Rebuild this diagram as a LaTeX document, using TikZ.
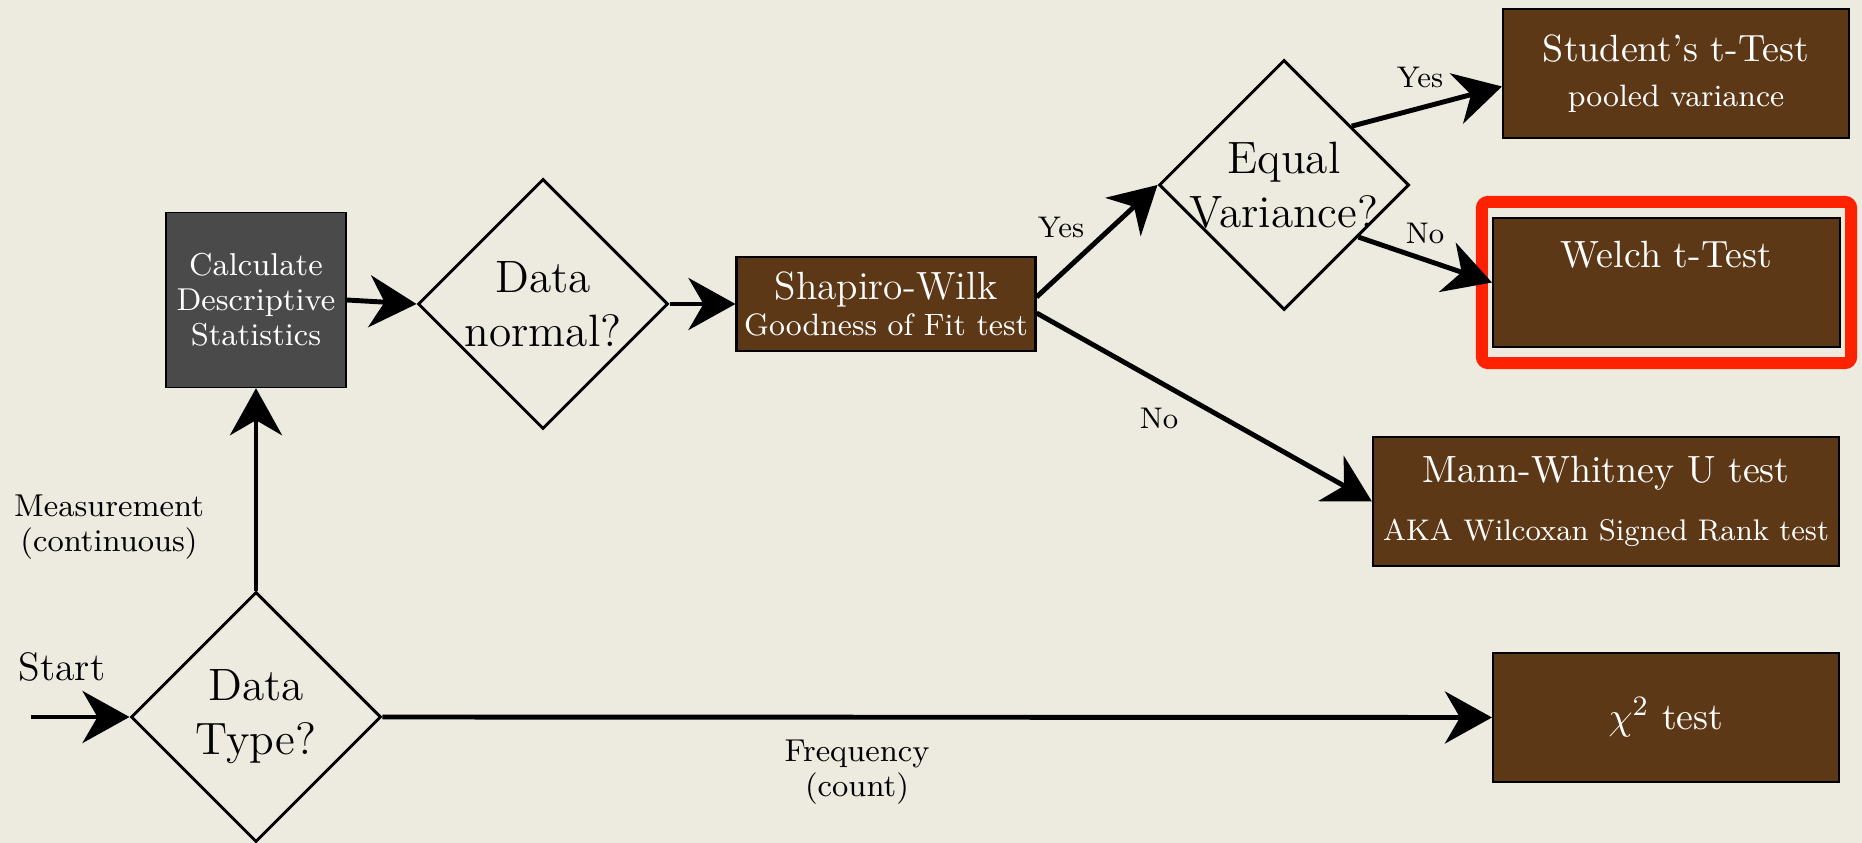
\documentclass[tikz,border=0pt]{standalone}
\usetikzlibrary{arrows.meta,shapes.geometric,fit}
\definecolor{fond}{RGB}{237,235,224}
\definecolor{brun}{RGB}{93,56,22}
\definecolor{gris}{RGB}{74,74,74}
\definecolor{rouge}{RGB}{255,34,0}
\newcommand{\petit}[1]{{\fontsize{8.8}{10}\selectfont #1}}
\begin{document}
\begin{tikzpicture}[
      >={Stealth[length=0.47cm,width=0.52cm,inset=0.15cm]},
      losange/.style={
        draw,
        diamond,
        shape aspect=1,
        minimum size=2.5cm,
        inner sep=-0.1cm,
        line width=0.85pt,
        align=center,
        font=\fontsize{12.9}{15.4}\selectfont
      },
      boite/.style={
        draw=black,
        fill=brun,
        text=white,
        align=center,
        inner sep=0pt,
        line width=0.6pt,
        minimum width=3.46cm,
        minimum height=1.29cm,
        font=\fontsize{10.8}{13}\selectfont
      },
      fleche/.style={->, line width=1.4pt},
      etiq/.style={align=center, font=\fontsize{9}{10}\selectfont},
      reponse/.style={font=\fontsize{8.5}{10}\selectfont},
      surligne/.style={
        draw=rouge,
        line width=0.12cm,
        rounded corners=0.06cm,
        inner xsep=0.1cm,
        inner ysep=0.15cm
      }
    ]
    \useasboundingbox (0,0) rectangle (18.62,8.43);
    \fill[fond] (0,0) rectangle (18.62,8.43);

    \node[losange] (dt) at (2.56,1.26) {Data\\Type?};
    \node[draw=black, fill=gris, text=white, align=center, inner sep=0pt,
      minimum width=1.8cm, minimum height=1.75cm,
      font=\fontsize{9}{10}\selectfont] (cds) at (2.56,5.43)
      {Calculate\\Descriptive\\Statistics};
    \node[losange] (dn) at (5.43,5.39) {Data\\normal?};
    \node[boite, minimum width=2.99cm, minimum height=0.94cm,
      font=\fontsize{11.2}{10}\selectfont] (sw) at (8.86,5.39)
      {Shapiro-Wilk\\\petit{Goodness of Fit test}};
    \node[losange] (ev) at (12.84,6.58) {Equal\\Variance?};
    \node[boite] (st) at (16.76,7.695) {Student's t-Test\\\petit{pooled variance}};
    \node[boite, minimum width=3.47cm] (wt) at (16.665,5.605) {Welch t-Test\\\petit{\strut}};
    \node[boite, minimum width=4.66cm] (mw) at (16.06,3.415)
      {Mann-Whitney U test\\[0.13cm]{\fontsize{8.5}{10}\selectfont AKA Wilcoxan Signed Rank test}};
    \node[boite] (chi) at (16.66,1.255) {$\chi^2$ test};
    \node[surligne, fit=(wt)] (hl) {};

    \node[font=\fontsize{11.3}{13}\selectfont] (start) at (0.62,1.76) {Start};
    \node[etiq] (mes) at (1.09,3.16) {Measurement\\(continuous)};
    \node[etiq] (freq) at (8.57,0.71) {Frequency\\(count)};
    \node[reponse] (oui1) at (10.61,6.16) {Yes};
    \node[reponse] (non1) at (11.59,4.25) {No};
    \node[reponse] (oui2) at (14.20,7.66) {Yes};
    \node[reponse] (non2) at (14.25,6.10) {No};

    \coordinate (depart) at (0.31,1.26);
    \node[coordinate,yshift=0.07cm] (swh) at (sw.east) {};
    \node[coordinate,yshift=-0.09cm] (swb) at (sw.east) {};
    \node[coordinate,yshift=-0.13cm] (stg) at (st.west) {};

    \draw[fleche] (depart) -- (dt.west);
    \draw[fleche] (dt.north) -- (cds.south);
    \draw[fleche] (dt.east) -- (chi.west);
    \draw[fleche] (cds.east) -- (dn.west);
    \draw[fleche] (dn.east) -- (sw.west);
    \draw[fleche] (swh) -- (ev.west);
    \draw[fleche] (swb) -- (mw.west);
    \draw[fleche] (ev.41) -- (stg);
    \draw[fleche] (ev.-35) -- (wt.west);

  \end{tikzpicture}
\end{document}
